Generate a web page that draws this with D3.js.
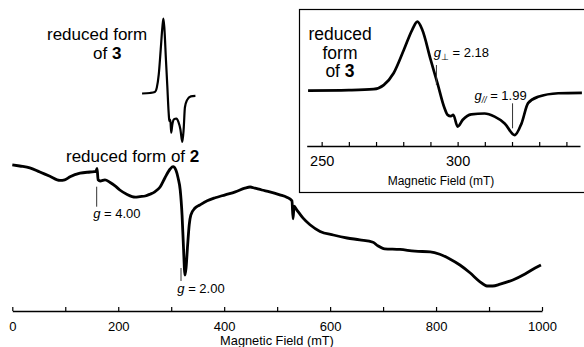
<!DOCTYPE html>
<html><head><meta charset="utf-8">
<script src="https://cdn.jsdelivr.net/npm/d3@7"></script>
<style>
body{margin:0;background:#fff}
svg{display:block}
text{font-family:"Liberation Sans",Arial,Helvetica,sans-serif;fill:#000}
</style>
</head><body>
<svg id="c" width="584" height="347"></svg>
<script>
// Main spectrum (reduced form of 2): field in mT, signal in arbitrary units
const mainField = [0,14,33,52,71,90,99,109,128,147,158,160,162,166,175,184,194,203,216,232,241,251,260,269,279,288,298,303.5,309,313,317,320.5,323,326,328,331,334,337,345,354,368,383,402,421,439,449,458,471,486,505,518,528,530,532,537,549,562,581,606,632,656,681,690,703,732,760,789,807,826,845,864,883,896,907,921,945,968,987,998];
const mainSignal = [0.92,0.9,0.87,0.8,0.73,0.66,0.67,0.72,0.78,0.8,0.81,0.86,0.67,0.65,0.67,0.63,0.57,0.5,0.43,0.38,0.39,0.4,0.43,0.47,0.55,0.7,0.85,0.89,0.83,0.7,0.5,0.08,-0.42,-0.92,-0.8,-0.42,-0.08,0.08,0.2,0.25,0.32,0.37,0.42,0.47,0.53,0.55,0.53,0.5,0.47,0.42,0.38,0.32,0.02,0.23,0.17,0.03,-0.08,-0.19,-0.25,-0.3,-0.33,-0.37,-0.43,-0.48,-0.49,-0.52,-0.53,-0.57,-0.65,-0.75,-0.88,-1.03,-1.1,-1.1,-1.07,-1.0,-0.9,-0.8,-0.75];
// Reduced form of 3 (shown small in main plot and enlarged in inset)
const redField = [245,260,269.1,272.8,276.5,280.2,283.3,285.2,287,290.1,292.6,295,296.3,297.5,298.4,300,301.9,305,309.9,313.6,317.3,321,323.5,325.9,329.6,337,345.7];
const redSignal = [0.01,0.02,0.04,0.13,0.4,0.91,1.36,1.54,1.36,0.69,0.17,-0.35,-0.53,-0.56,-0.53,-0.79,-0.64,-0.52,-0.5,-0.57,-0.72,-0.98,-0.72,-0.27,-0.13,-0.05,-0.04];
// Axes
const mainTicks = [0,100,200,300,400,500,600,700,800,900,1000];
const mainTickLabels = [0,200,400,600,800,1000];
const insetTicks = [250,260,270,280,290,300,310,320,330,340];
const insetTickLabels = [250,300];
const axisTitle = "Magnetic Field (mT)";
// Annotations (g-value markers, field in mT)
const mainMarks = [{field:159.3, label:"4.00"},{field:318.5, label:"2.00"}];
const insetMarks = [{field:292.2, sub:"\u22A5", label:"2.18"},{field:320.2, sub:"//", label:"1.99"}];

const svg = d3.select("#c");

// ---------- main plot ----------
const x = d3.scaleLinear().domain([0,1000]).range([12.3,542]);
const y = d3.scaleLinear().domain([-1,1]).range([280,160]);
const ySmall = d3.scaleLinear().domain([-1,1]).range([143,45]);

const mainAxis = d3.axisBottom(x).tickValues(mainTicks)
  .tickSizeInner(-4).tickSizeOuter(0).tickPadding(11)
  .tickFormat(d => mainTickLabels.includes(d) ? d : "");
const gA = svg.append("g").attr("transform","translate(0,311)").call(mainAxis);
gA.select(".domain").attr("stroke","#000").attr("stroke-width",1.3);
gA.selectAll(".tick line").attr("stroke","#000").attr("stroke-width",1.2);
gA.selectAll("text").attr("font-size","13px").attr("font-family",null);
svg.append("text").attr("x",277).attr("y",345).attr("text-anchor","middle")
  .attr("font-size","12.8px").text(axisTitle);

const lineMain = d3.line().x((d,i)=>x(mainField[i])).y((d,i)=>y(mainSignal[i])).curve(d3.curveMonotoneX);
svg.append("path").attr("d", lineMain(mainField)).attr("fill","none")
  .attr("stroke","#000").attr("stroke-width",2.8).attr("stroke-linejoin","round");

const lineSmall = d3.line().x((d,i)=>x(redField[i])).y((d,i)=>ySmall(redSignal[i])).curve(d3.curveMonotoneX);
svg.append("path").attr("d", lineSmall(redField)).attr("fill","none")
  .attr("stroke","#000").attr("stroke-width",2.2).attr("stroke-linejoin","round");

// labels main
svg.append("text").attr("x",47).attr("y",40).attr("font-size","17px").text("reduced form");
const t2 = svg.append("text").attr("x",93).attr("y",58.5).attr("font-size","17px");
t2.append("tspan").text("of ");
t2.append("tspan").attr("font-weight","bold").text("3");
const t3 = svg.append("text").attr("x",66).attr("y",161.7).attr("font-size","17px");
t3.append("tspan").text("reduced form of ");
t3.append("tspan").attr("font-weight","bold").text("2");

// main markers
const mm = [{y1:186.7,y2:206.7,ty:218.3,dx:-3.5},{y1:268,y2:281,ty:293.3,dx:-3.7}];
mainMarks.forEach((m,i)=>{
  const px = x(m.field);
  svg.append("line").attr("x1",px).attr("x2",px).attr("y1",mm[i].y1).attr("y2",mm[i].y2)
    .attr("stroke","#333").attr("stroke-width",1);
  const t = svg.append("text").attr("x",px+mm[i].dx).attr("y",mm[i].ty).attr("font-size","13px");
  t.append("tspan").attr("font-style","italic").text("g");
  t.append("tspan").text(" = "+m.label);
});

// ---------- inset ----------
svg.append("rect").attr("x",299.5).attr("y",9.5).attr("width",300).attr("height",183)
  .attr("fill","#fff").attr("stroke","#000").attr("stroke-width",1.2);
const xi = d3.scaleLinear().domain([244.5,345]).range([306.7,580]);
const yi = d3.scaleLinear().domain([-1,1]).range([136,46]);
const insetAxis = d3.axisBottom(xi).tickValues(insetTicks)
  .tickSizeInner(-4).tickSizeOuter(0).tickPadding(10)
  .tickFormat(d => insetTickLabels.includes(d) ? d : "");
const gI = svg.append("g").attr("transform","translate(0,146)").call(insetAxis);
gI.select(".domain").attr("stroke","#000").attr("stroke-width",1.3);
gI.selectAll(".tick line").attr("stroke","#000").attr("stroke-width",1.2);
gI.selectAll("text").attr("font-size","14.5px").attr("font-family",null);
svg.append("text").attr("x",441).attr("y",185).attr("text-anchor","middle")
  .attr("font-size","12px").text(axisTitle);

const lineInset = d3.line().x((d,i)=>xi(redField[i])).y((d,i)=>yi(redSignal[i])).curve(d3.curveMonotoneX);
svg.append("path").attr("d", lineInset(redField)).attr("fill","none")
  .attr("stroke","#000").attr("stroke-width",2.7).attr("stroke-linejoin","round");

[["reduced",40],["form",58.5],["of ",77]].forEach(([s,yy],i)=>{
  const t = svg.append("text").attr("x",340).attr("y",yy).attr("text-anchor","middle").attr("font-size","17.5px");
  t.append("tspan").text(s);
  if(i===2) t.append("tspan").attr("font-weight","bold").text("3");
});

const im = [{y1:65,y2:85,tx:-2.7,ty:56.7},{y1:103.3,y2:128.3,tx:-38,ty:100}];
insetMarks.forEach((m,i)=>{
  const px = xi(m.field);
  svg.append("line").attr("x1",px).attr("x2",px).attr("y1",im[i].y1).attr("y2",im[i].y2)
    .attr("stroke","#333").attr("stroke-width",1);
  const t = svg.append("text").attr("x",px+im[i].tx).attr("y",im[i].ty).attr("font-size","13px");
  t.append("tspan").attr("font-style","italic").text("g");
  t.append("tspan").attr("font-size","8.5px").attr("font-style", i===1?"italic":null).attr("dy",3).text(m.sub);
  t.append("tspan").attr("dy",-3).text(" = "+m.label);
});
</script>
</body></html>
